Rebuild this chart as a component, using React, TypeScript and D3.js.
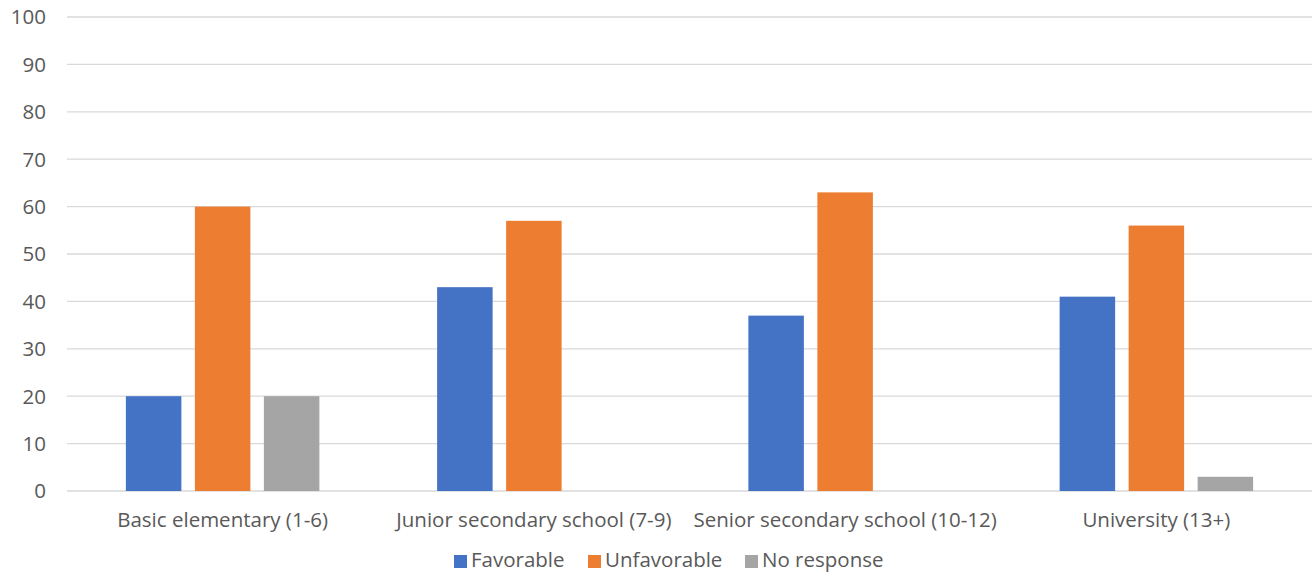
import React from "react";
import * as d3 from "d3";

const categories = [
  "Basic elementary (1-6)",
  "Junior secondary school (7-9)",
  "Senior secondary school (10-12)",
  "University (13+)",
];
const seriesNames = ["Favorable", "Unfavorable", "No response"];
const favorable = [20, 43, 37, 41];
const unfavorable = [60, 57, 63, 56];
const noResponse = [20, 0, 0, 3];
const yTicks = [0, 10, 20, 30, 40, 50, 60, 70, 80, 90, 100];
const colors = ["#4472C4", "#ED7D31", "#A5A5A5"];

const W = 1312;
const H = 575;
const FONT = "'Open Sans', sans-serif";
const TXT = "#595959";
const FS = 20.5;

export default function App() {
  const series = [favorable, unfavorable, noResponse];
  const left = 67;
  const right = 1312;
  const y = d3.scaleLinear().domain([0, 100]).range([491, 17]);
  const x = d3.scaleBand<string>().domain(categories).range([left, right]);
  const bw = 55.5;
  const step = 69;

  const legendX = [454, 588, 745];

  return (
    <svg
      width={W}
      height={H}
      style={{ position: "absolute", left: 0, top: 0, background: "#fff" }}
      fontFamily={FONT}
    >
      {yTicks.map((t) => (
        <g key={t}>
          <line x1={left} x2={right} y1={y(t)} y2={y(t)} stroke="#d9d9d9" strokeWidth={1.3} />
          <text x={46} y={y(t)} dy="0.36em" textAnchor="end" fontSize={FS} fill={TXT}>
            {t}
          </text>
        </g>
      ))}
      {categories.map((c, ci) => {
        const cx = (x(c) as number) + x.bandwidth() / 2;
        return (
          <g key={c}>
            {series.map((s, si) => {
              const v = s[ci];
              if (v <= 0) return null;
              const bx = cx + (si - 1) * step - bw / 2;
              return (
                <rect
                  key={si}
                  x={bx}
                  y={y(v)}
                  width={bw}
                  height={y(0) - y(v)}
                  fill={colors[si]}
                />
              );
            })}
            <text x={cx} y={527} textAnchor="middle" fontSize={FS} fill={TXT}>
              {c}
            </text>
          </g>
        );
      })}
      {seriesNames.map((n, i) => (
        <g key={n}>
          <rect x={legendX[i]} y={555} width={13} height={13} fill={colors[i]} />
          <text x={legendX[i] + 17} y={567} fontSize={FS} fill={TXT}>
            {n}
          </text>
        </g>
      ))}
    </svg>
  );
}
